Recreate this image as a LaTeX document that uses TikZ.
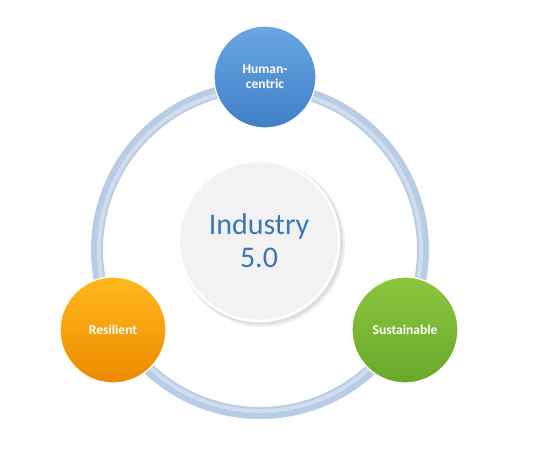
\documentclass[tikz,border=0pt]{standalone}
\usepackage{fontspec}
\setmainfont{Carlito}
\definecolor{ringc}{HTML}{B8CCE4}
\definecolor{ringl}{HTML}{CFDDEE}
\definecolor{blueL}{HTML}{6AA6E2}
\definecolor{blueD}{HTML}{3F7FC6}
\definecolor{orangeL}{HTML}{FFB81C}
\definecolor{orangeD}{HTML}{EE8A00}
\definecolor{greenL}{HTML}{8CC63F}
\definecolor{greenD}{HTML}{68A82A}
\definecolor{centerc}{HTML}{F2F2F2}
\definecolor{textblue}{HTML}{3B77B5}
\tikzset{
  petal/.style={circle, minimum size=#1, inner sep=0pt, draw=white, line width=1.2pt, font=\bfseries\fontsize{13.5}{15}\selectfont, text=white, align=center, shading angle=135},
  hub/.style={circle, minimum size=160pt, inner sep=0pt, fill=centerc, draw=white, line width=2.5pt, font=\fontsize{30}{33}\selectfont, text=textblue, align=center}
}
\begin{document}
\begin{tikzpicture}[x=1pt,y=-1pt]
\useasboundingbox (0,0) rectangle (533,448);
\fill[white] (0,0) rectangle (533,448);
% ring
\coordinate (c) at (260,250);
\draw[ringc, line width=12pt] (c) circle (163);
\draw[ringl, line width=4pt] (c) circle (161);
% hub shadow
\fill[black, opacity=0.07] (261,243) circle (82);
\fill[black, opacity=0.06] (262,244) circle (83);
\node[hub] (hub) at (259,241) {Industry\\5.0};
% petals
\node[petal=102pt, top color=blueL, bottom color=blueD] (human) at (265,77) {Human-\\centric};
\node[petal=106pt, top color=orangeL, bottom color=orangeD] (res) at (113,330) {Resilient};
\node[petal=106pt, top color=greenL, bottom color=greenD] (sus) at (405,330) {Sustainable};
\end{tikzpicture}
\end{document}
